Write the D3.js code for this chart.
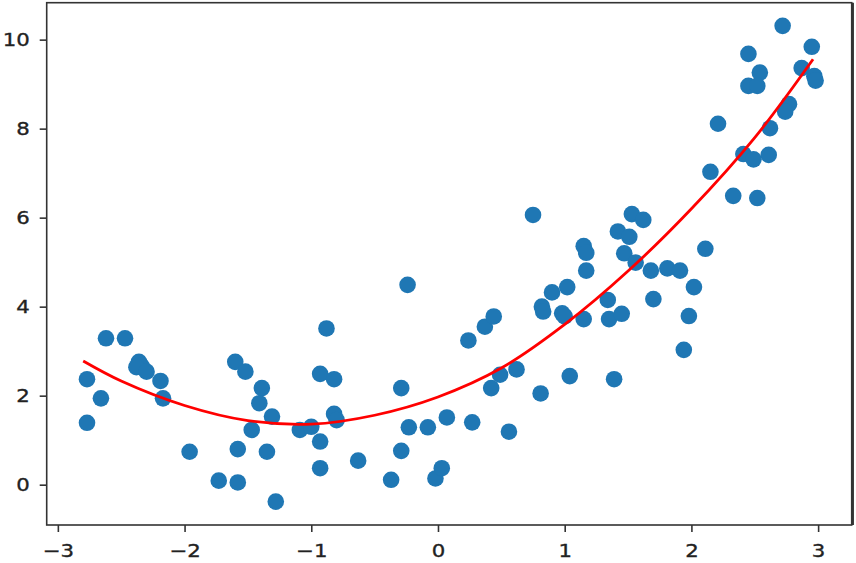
<!DOCTYPE html>
<html>
<head>
<meta charset="utf-8">
<script src="https://cdn.jsdelivr.net/npm/d3@7"></script>
<style>
  body { margin: 0; background: #fff; }
  .tick text { font-family: "DejaVu Sans", sans-serif; font-size: 18.5px; fill: #222; stroke: #222; stroke-width: 0.35px; }
</style>
</head>
<body>
<div id="chart"></div>
<script>
// scatter points (x, y)
var xValues = [
  -2.77, -2.77, -2.66, -2.62, -2.47, -2.36, -2.34, -2.38, -2.30, -2.19,
  -2.17, -1.96, -1.73, -1.58, -1.58, -1.60, -1.52, -1.39, -1.41, -1.31,
  -1.47, -1.35, -1.28, -1.09, -1.00, -0.93, -0.93, -0.88, -0.93, -0.82,
  -0.82, -0.80, -0.63, -0.37, -0.29, -0.29, -0.24, -0.23, -0.08, -0.02,
  0.03, 0.07, 0.24, 0.27, 0.37, 0.44, 0.42, 0.49, 0.62, 0.56,
  0.81, 0.82, 0.83, 0.90, 1.02, 0.98, 1.00, 1.04, 0.75, 1.15,
  1.17, 1.17, 1.15, 1.34, 1.35, 1.45, 1.39, 1.42, 1.51, 1.47,
  1.56, 1.53, 1.62, 1.68, 1.70, 1.81, 1.91, 2.02, 1.98, 1.94,
  2.11, 2.33, 2.52, 2.72, 2.95, 2.45, 2.54, 2.45, 2.52, 2.87,
  2.97, 2.98, 2.77, 2.74, 2.62, 2.21, 2.41, 2.49, 2.61, 2.15
];
var yValues = [
  2.37, 1.39, 1.94, 3.29, 3.29, 2.76, 2.67, 2.64, 2.54, 2.33,
  1.94, 0.74, 0.09, 0.05, 0.80, 2.76, 2.54, 2.17, 1.83, 1.53,
  1.23, 0.74, -0.38, 1.23, 1.30, 0.97, 0.37, 3.51, 2.49, 2.37,
  1.59, 1.45, 0.54, 0.11, 0.76, 2.17, 4.49, 1.29, 1.29, 0.14,
  0.37, 1.51, 3.24, 1.40, 3.55, 3.78, 2.17, 2.47, 2.59, 1.19,
  2.05, 4.00, 3.89, 4.32, 4.44, 3.85, 3.78, 2.44, 6.06, 5.36,
  5.21, 4.81, 3.72, 4.15, 3.72, 3.84, 2.37, 5.69, 5.57, 5.20,
  4.99, 6.08, 5.95, 4.81, 4.17, 4.86, 4.81, 4.44, 3.79, 3.03,
  5.30, 6.49, 6.44, 10.31, 9.84, 9.68, 9.26, 8.96, 8.96, 9.36,
  9.18, 9.08, 8.55, 8.38, 8.01, 8.11, 7.43, 7.31, 7.41, 7.03
];

// red fitted curve
var curveX = [-2.8, -2.5, -2.0, -1.5, -1.0, -0.5, 0.0, 0.5, 1.0, 1.5, 2.0, 2.5, 2.96];
var curveY = [2.78, 2.33, 1.78, 1.44, 1.36, 1.56, 1.97, 2.62, 3.6, 4.8, 6.2, 7.8, 9.56];

var xTicks = [-3, -2, -1, 0, 1, 2, 3];
var yTicks = [0, 2, 4, 6, 8, 10];

var svgWidth = 856;
var svgHeight = 563;
var margin = { top: 2.7, right: 4.3, bottom: 38, left: 46.7 };
var width = svgWidth - margin.left - margin.right;
var height = svgHeight - margin.top - margin.bottom;
var textStretch = 1.15;

var svg = d3.select("#chart").append("svg")
  .attr("width", svgWidth)
  .attr("height", svgHeight);

var g = svg.append("g")
  .attr("transform", `translate(${margin.left}, ${margin.top})`);

var x = d3.scaleLinear().domain([-3.088, 3.265]).range([0, width]);
var y = d3.scaleLinear().domain([-0.906, 10.83]).range([height, 0]);

// points
var points = d3.range(xValues.length).map(function(i) {
  return { x: xValues[i], y: yValues[i] };
});

g.selectAll("circle")
  .data(points)
  .enter()
  .append("circle")
  .attr("cx", function(d) { return x(d.x); })
  .attr("cy", function(d) { return y(d.y); })
  .attr("r", 8.3)
  .attr("fill", "#1f77b4");

// fitted curve
var line = d3.line()
  .x(function(d) { return x(d[0]); })
  .y(function(d) { return y(d[1]); })
  .curve(d3.curveCatmullRom);

g.append("path")
  .datum(d3.zip(curveX, curveY))
  .attr("d", line)
  .attr("fill", "none")
  .attr("stroke", "red")
  .attr("stroke-width", 2.8);

// axes
var xAxis = g.append("g")
  .attr("transform", `translate(0, ${height})`)
  .call(d3.axisBottom(x).tickValues(xTicks).tickFormat(d3.format("d")).tickSize(7).tickPadding(12));

var yAxis = g.append("g")
  .call(d3.axisLeft(y).tickValues(yTicks).tickFormat(d3.format("d")).tickSize(7).tickPadding(10));

[xAxis, yAxis].forEach(function(ax) {
  ax.select(".domain").remove();
  ax.selectAll(".tick line").attr("stroke", "#333").attr("stroke-width", 1.6);
});

xAxis.selectAll(".tick text")
  .attr("transform", `scale(${textStretch}, 1)`);
yAxis.selectAll(".tick text")
  .attr("x", -17 / textStretch)
  .attr("transform", `scale(${textStretch}, 1)`);

// frame
g.append("rect")
  .attr("width", width)
  .attr("height", height)
  .attr("fill", "none")
  .attr("stroke", "#333")
  .attr("stroke-width", 1.6);

g.append("line")
  .attr("x1", width + 1).attr("x2", width + 1)
  .attr("y1", 0).attr("y2", height)
  .attr("stroke", "#333")
  .attr("stroke-width", 2.5);
</script>
</body>
</html>
